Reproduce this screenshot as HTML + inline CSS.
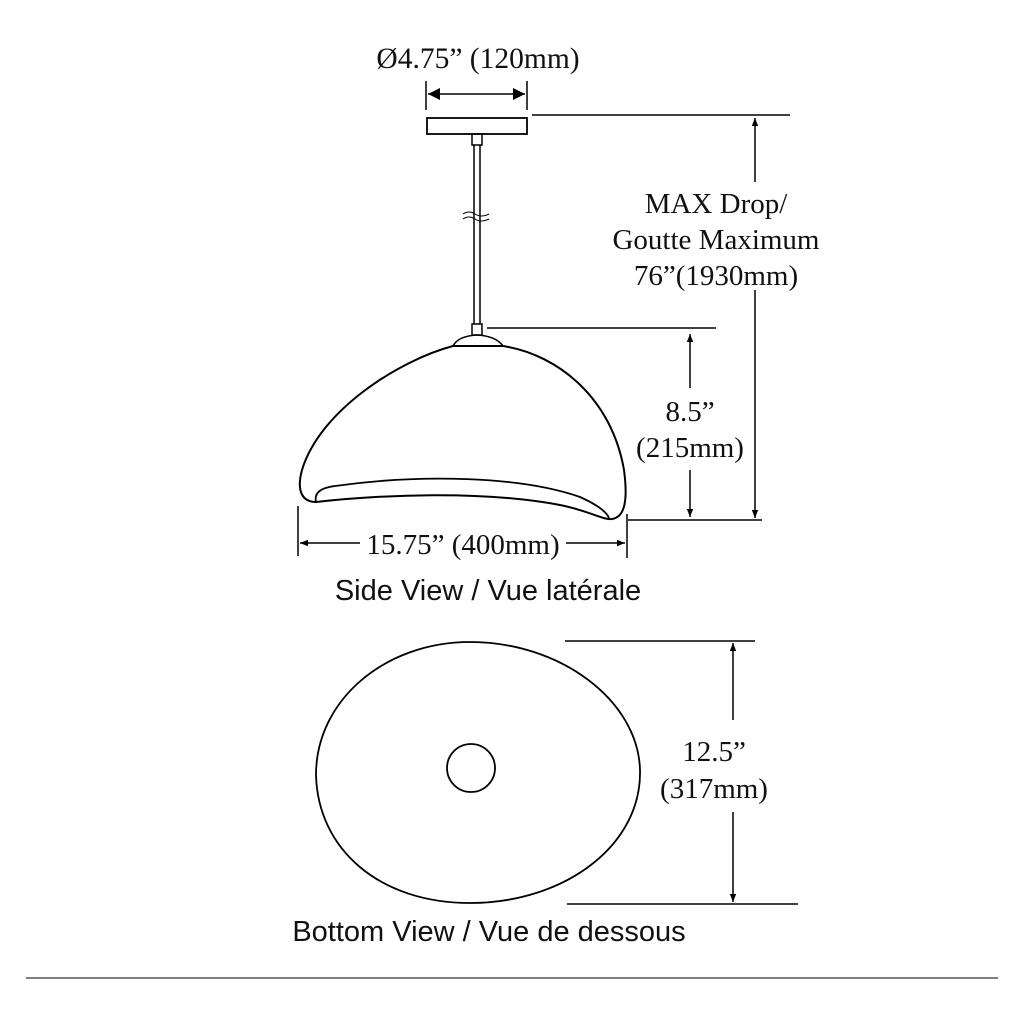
<!DOCTYPE html>
<html><head><style>
html,body{margin:0;padding:0;background:#fff;}
svg{display:block;}
.s{font-family:"Liberation Serif",serif;fill:#111;}
.a{font-family:"Liberation Sans",sans-serif;fill:#111;}
</style></head><body>
<svg width="1024" height="1024" viewBox="0 0 1024 1024" xmlns="http://www.w3.org/2000/svg">
<defs>
<marker id="ar" viewBox="0 0 10 10" refX="10" refY="5" markerWidth="14" markerHeight="8" orient="auto-start-reverse" markerUnits="userSpaceOnUse"><path d="M0,1 L10,5 L0,9 Z" fill="#000"/></marker>
<marker id="ab" viewBox="0 0 10 10" refX="10" refY="5" markerWidth="30" markerHeight="12" orient="auto-start-reverse" markerUnits="userSpaceOnUse"><path d="M0,0 L10,5 L0,10 Z" fill="#000"/></marker>
</defs>
<g stroke="#000" fill="none" stroke-width="1.5">
<text class="s" x="478" y="68" text-anchor="middle" font-size="29.5" stroke="none">Ø4.75” (120mm)</text>
<line x1="426" y1="81" x2="426" y2="110"/>
<line x1="527" y1="81" x2="527" y2="110"/>
<line x1="428" y1="94" x2="525" y2="94" marker-start="url(#ab)" marker-end="url(#ab)"/>
<rect x="427" y="118" width="100" height="16" stroke-width="1.8"/>
<rect x="472" y="134" width="10" height="11"/>
<line x1="474" y1="145" x2="474" y2="324"/>
<line x1="480" y1="145" x2="480" y2="324"/>
<path d="M463,214 q6,-4 12,0 t14,0 M463,219 q6,-4 12,0 t14,0" stroke-width="1"/>
<rect x="472" y="324" width="10" height="11"/>
<path d="M453,346 Q458,336 477,335 Q496,336 503,346" stroke-width="1.6"/>
<path d="M453,346 C400,360 320,410 302,470 C296,492 303,502 316,502 C380,495 480,490 560,505 C590,511 602,520 612,519 C625,517 628,500 624,470 C612,400 560,355 503,346 Z" stroke-width="2"/>
<path d="M316,502 C314,493 320,488 335,486 C420,474 520,476 580,497 C600,506 607,513 609,518" stroke-width="1.8"/>
<line x1="532" y1="115" x2="790" y2="115"/>
<line x1="755" y1="118" x2="755" y2="518" marker-start="url(#ar)" marker-end="url(#ar)"/>
<line x1="628" y1="520" x2="762" y2="520"/>
<line x1="487" y1="328" x2="716" y2="328"/>
<line x1="690" y1="334" x2="690" y2="388" marker-start="url(#ar)"/>
<line x1="690" y1="470" x2="690" y2="517" marker-end="url(#ar)"/>
<rect x="608" y="182" width="220" height="108" fill="#fff" stroke="none"/>
<rect x="626" y="390" width="124" height="78" fill="#fff" stroke="none"/>
<text class="s" x="716" y="213" text-anchor="middle" font-size="29" stroke="none">MAX Drop/</text>
<text class="s" x="716" y="249" text-anchor="middle" font-size="29" stroke="none">Goutte Maximum</text>
<text class="s" x="716" y="285" text-anchor="middle" font-size="29" stroke="none">76”(1930mm)</text>
<text class="s" x="690" y="421" text-anchor="middle" font-size="29" stroke="none">8.5”</text>
<text class="s" x="690" y="457" text-anchor="middle" font-size="29" stroke="none">(215mm)</text>
<line x1="298" y1="506" x2="298" y2="556"/>
<line x1="627" y1="514" x2="627" y2="558"/>
<line x1="300" y1="543" x2="360" y2="543" marker-start="url(#ar)"/>
<line x1="566" y1="543" x2="625" y2="543" marker-end="url(#ar)"/>
<text class="s" x="463" y="554" text-anchor="middle" font-size="29" stroke="none">15.75” (400mm)</text>
<text class="a" x="488" y="600" text-anchor="middle" font-size="29" stroke="none">Side View / Vue latérale</text>
<path d="M470,642 C560,642 638,700 640,770 C642,845 565,903 470,903 C380,903 318,850 316,775 C316,700 385,642 470,642 Z" stroke-width="1.8"/>
<circle cx="471" cy="768" r="24" stroke-width="1.8"/>
<line x1="565" y1="641" x2="755" y2="641"/>
<line x1="567" y1="904" x2="798" y2="904"/>
<line x1="733" y1="720" x2="733" y2="643" marker-end="url(#ar)"/>
<line x1="733" y1="812" x2="733" y2="902" marker-end="url(#ar)"/>
<text class="s" x="714" y="761" text-anchor="middle" font-size="29" stroke="none">12.5”</text>
<text class="s" x="714" y="798" text-anchor="middle" font-size="29" stroke="none">(317mm)</text>
<text class="a" x="489" y="941" text-anchor="middle" font-size="29" stroke="none">Bottom View / Vue de dessous</text>
<line x1="26" y1="978" x2="998" y2="978" stroke-width="1"/>
</g>
</svg>
</body></html>
